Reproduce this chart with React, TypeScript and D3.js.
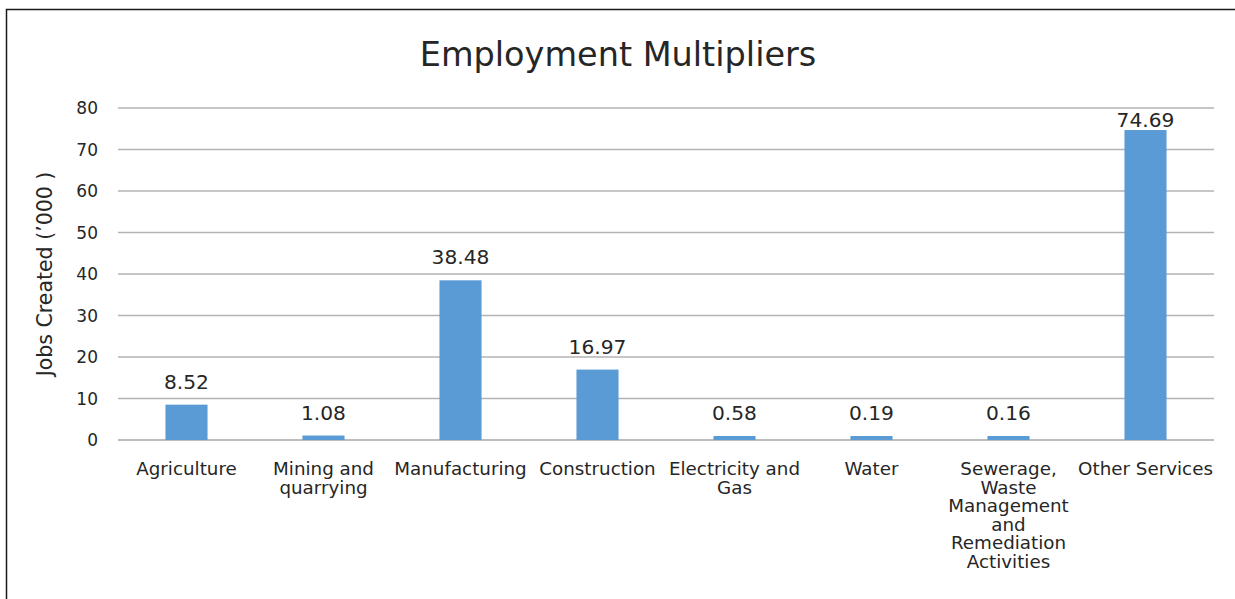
import React, { useEffect } from "react";
import * as d3 from "d3";

const categories: string[][] = [
  ["Agriculture"],
  ["Mining and", "quarrying"],
  ["Manufacturing"],
  ["Construction"],
  ["Electricity and", "Gas"],
  ["Water"],
  ["Sewerage,", "Waste", "Management", "and", "Remediation", "Activities"],
  ["Other Services"],
];
const values: number[] = [8.52, 1.08, 38.48, 16.97, 0.58, 0.19, 0.16, 74.69];
const valueLabels: string[] = ["8.52", "1.08", "38.48", "16.97", "0.58", "0.19", "0.16", "74.69"];
const yTicks: number[] = [0, 10, 20, 30, 40, 50, 60, 70, 80];

const title = "Employment Multipliers";
const yTitle = "Jobs Created (\u2019000 )";

const W = 1235;
const H = 599;
const FONT = "'DejaVu Sans', sans-serif";
const TEXT = "#262626";

export default function App() {
  useEffect(() => {
    document.body.style.margin = "0";
  }, []);

  const left = 118;
  const right = 1214;
  const top = 108;
  const bottom = 440;

  const x = d3
    .scaleBand<number>()
    .domain(d3.range(categories.length))
    .range([left, right])
    .paddingInner(0.693)
    .paddingOuter(0.3465);
  const y = d3.scaleLinear().domain([0, 80]).range([bottom, top]);

  return (
    <svg width={W} height={H} style={{ display: "block", background: "#fff" }}>
      <rect x={6.5} y={9.5} width={W + 20} height={H + 20} fill="#fff" stroke="#1a1a1a" strokeWidth={1.5} />
      <text x={618} y={66} textAnchor="middle" fontFamily={FONT} fontSize={33.5} fill={TEXT}>
        {title}
      </text>
      {yTicks.map((t) => (
        <g key={t}>
          <line x1={left} x2={right} y1={y(t)} y2={y(t)} stroke={t === 0 ? "#a6a6a6" : "#b3b3b3"} strokeWidth={1.3} />
          <text x={98} y={y(t)} dy="0.36em" textAnchor="end" fontFamily={FONT} fontSize={17} fill={TEXT}>
            {t}
          </text>
        </g>
      ))}
      <text
        transform={`translate(52,${(top + bottom) / 2}) rotate(-90)`}
        textAnchor="middle"
        fontFamily={FONT}
        fontSize={20.5}
        fill={TEXT}
      >
        {yTitle}
      </text>
      {values.map((v, i) => {
        const yv = y(v);
        const h = Math.max(bottom - yv, 4);
        const barTop = bottom - h;
        const labelY = Math.max(barTop - 16, top + 19);
        const cx = (x(i) as number) + x.bandwidth() / 2;
        return (
          <g key={i}>
            <rect x={x(i)} y={barTop} width={x.bandwidth()} height={h} fill="#5b9bd5" />
            <text x={cx} y={labelY} textAnchor="middle" fontFamily={FONT} fontSize={20.2} fill={TEXT}>
              {valueLabels[i]}
            </text>
            <text x={cx} y={475} textAnchor="middle" fontFamily={FONT} fontSize={18.3} fill={TEXT}>
              {categories[i].map((line, j) => (
                <tspan key={j} x={cx} dy={j === 0 ? 0 : 18.6}>
                  {line}
                </tspan>
              ))}
            </text>
          </g>
        );
      })}
    </svg>
  );
}
